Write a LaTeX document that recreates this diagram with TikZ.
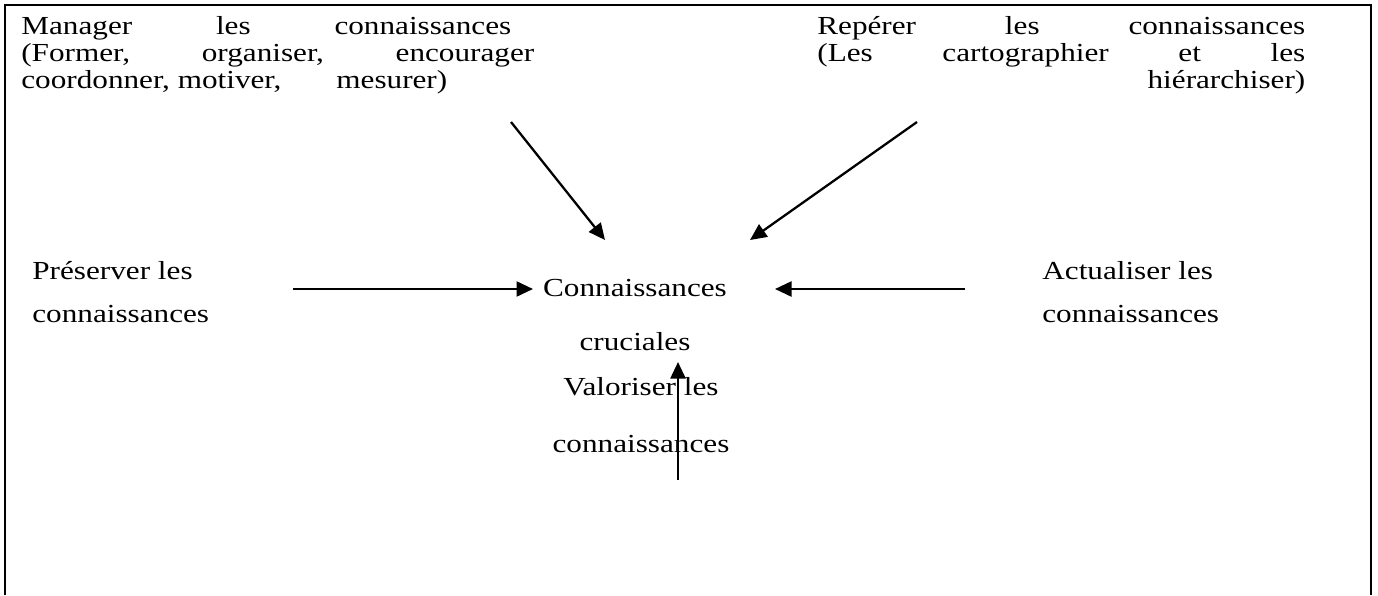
\documentclass[tikz,border=0pt]{standalone}
\usepackage{fontspec}
\setmainfont{Liberation Serif}[FakeStretch=1.2]
\usetikzlibrary{arrows.meta}

% ligne justifiee sur une largeur donnee
\newcommand{\ligne}[2]{\makebox[#1][s]{#2}}

\begin{document}
\begin{tikzpicture}[x=0.02cm,y=-0.02cm,
  texte/.style={inner sep=0pt, font=\fontsize{14.8pt}{#1}\selectfont},
  texte/.default=15.1pt,
  fleche/.style={-{Triangle[length=0.33cm,width=0.3cm]}, line width=1.3pt}]
  \useasboundingbox (0,0) rectangle (1378,595);

  % Cadre (ouvert en bas)
  \draw[line width=1.3pt] (5,595) -- (5,5) -- (1371,5) -- (1371,595);

  % Blocs du haut (ancre sur la derniere ligne)
  \node[texte, anchor=base west, align=left] (manager) at (21,88)
    {\ligne{9.8cm}{Manager les connaissances}\\
     \ligne{10.26cm}{(Former, organiser, encourager}\\
     \makebox[8.52cm][l]{coordonner, motiver,\hfill mesurer)}};
  \node[texte, anchor=base west, align=left] (reperer) at (817,88)
    {\ligne{9.76cm}{Repérer les connaissances}\\
     \ligne{9.76cm}{(Les cartographier et les}\\
     \makebox[9.76cm][r]{hiérarchiser)}};

  % Blocs du milieu
  \node[texte=24.4pt, anchor=base west, align=left] (preserver) at (32,322)
    {Préserver les\\connaissances};
  \node[texte=24.4pt, anchor=base west, align=left] (actualiser) at (1042,322)
    {Actualiser les\\connaissances};
  \node[texte=30.7pt, anchor=base, align=center] (crucial) at (635,350)
    {Connaissances\\cruciales};
  \node[texte=32.4pt, anchor=base, align=center] (valoriser) at (641,452)
    {Valoriser les\\connaissances};

  % Extremites des fleches
  \coordinate (m-dep) at (511,122);
  \coordinate (m-arr) at (605,240);
  \coordinate (r-dep) at (917,122);
  \coordinate (r-arr) at (750,240);
  \coordinate (p-dep) at (293,289);
  \coordinate (p-arr) at (533,289);
  \coordinate (a-dep) at (965,289);
  \coordinate (a-arr) at (775,289);
  \coordinate (v-dep) at (678,480);
  \coordinate (v-arr) at (678,362);

  % Fleches vers les connaissances cruciales
  \draw[fleche] (m-dep) -- (m-arr);
  \draw[fleche] (r-dep) -- (r-arr);
  \draw[fleche] (p-dep) -- (p-arr);
  \draw[fleche] (a-dep) -- (a-arr);
  \draw[fleche] (v-dep) -- (v-arr);
\end{tikzpicture}
\end{document}
